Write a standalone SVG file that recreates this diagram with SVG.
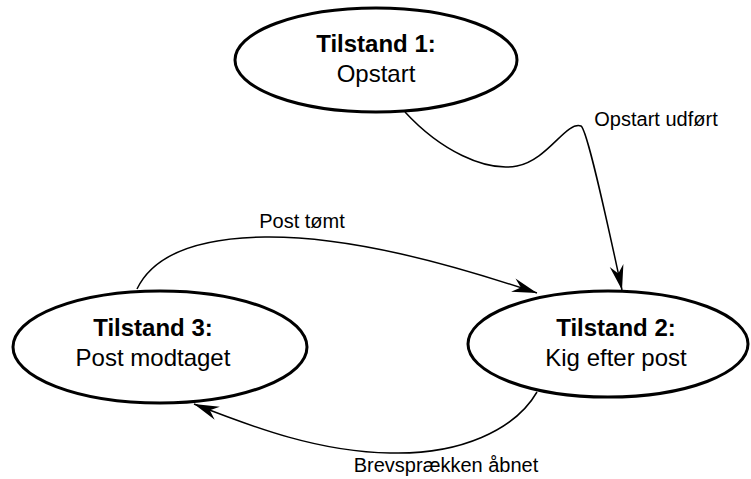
<svg xmlns="http://www.w3.org/2000/svg" width="751" height="479" viewBox="0 0 751 479">
<defs>
<style>
.node{fill:#fff;stroke:#000;stroke-width:3}
.t{font-family:"Liberation Sans",Arial,sans-serif;font-size:24px;text-anchor:middle;fill:#000}
.b{font-weight:bold}
.lbl{font-family:"Liberation Sans",Arial,sans-serif;font-size:20px;text-anchor:middle;fill:#000}
.edge{fill:none;stroke:#000;stroke-width:1.5}
</style>
<marker id="arr" markerUnits="userSpaceOnUse" markerWidth="30" markerHeight="20" viewBox="-28 -10 30 20" refX="0" refY="0" orient="auto">
<path d="M0,0 L-25,-7 L-17,0 L-25,7 Z" fill="#000"/>
</marker>
</defs>
<rect width="751" height="479" fill="#fff"/>
<g id="connectors">
<path class="edge" d="M405,112 C440,150 485,172 517,166 C548,160 566,121 581,126 C588,130 612,245 622,290" marker-end="url(#arr)"/>
<path class="edge" d="M137,289 C152,258 190,238 265,237 C350,236 450,264 537,293" marker-end="url(#arr)"/>
<path class="edge" d="M537,392 C515,430 460,455 390,453 C320,452 255,428 194,404" marker-end="url(#arr)"/>
</g>
<g id="label-opstart-udfoert"><text class="lbl" x="656" y="126">Opstart udført</text></g>
<g id="label-post-toemt"><text class="lbl" x="302" y="228">Post tømt</text></g>
<g id="label-brevspraekken"><text class="lbl" x="446" y="472">Brevsprækken åbnet</text></g>
<g id="node1">
<ellipse class="node" cx="376" cy="60" rx="141" ry="52"/>
<text class="t b" x="376" y="52">Tilstand 1:</text>
<text class="t" x="376" y="82">Opstart</text>
</g>
<g id="node2">
<ellipse class="node" cx="608" cy="344" rx="140" ry="53"/>
<text class="t b" x="616" y="336">Tilstand 2:</text>
<text class="t" x="616" y="366">Kig efter post</text>
</g>
<g id="node3">
<ellipse class="node" cx="160" cy="347" rx="147" ry="56"/>
<text class="t b" x="153" y="336">Tilstand 3:</text>
<text class="t" x="153" y="366">Post modtaget</text>
</g>
</svg>
